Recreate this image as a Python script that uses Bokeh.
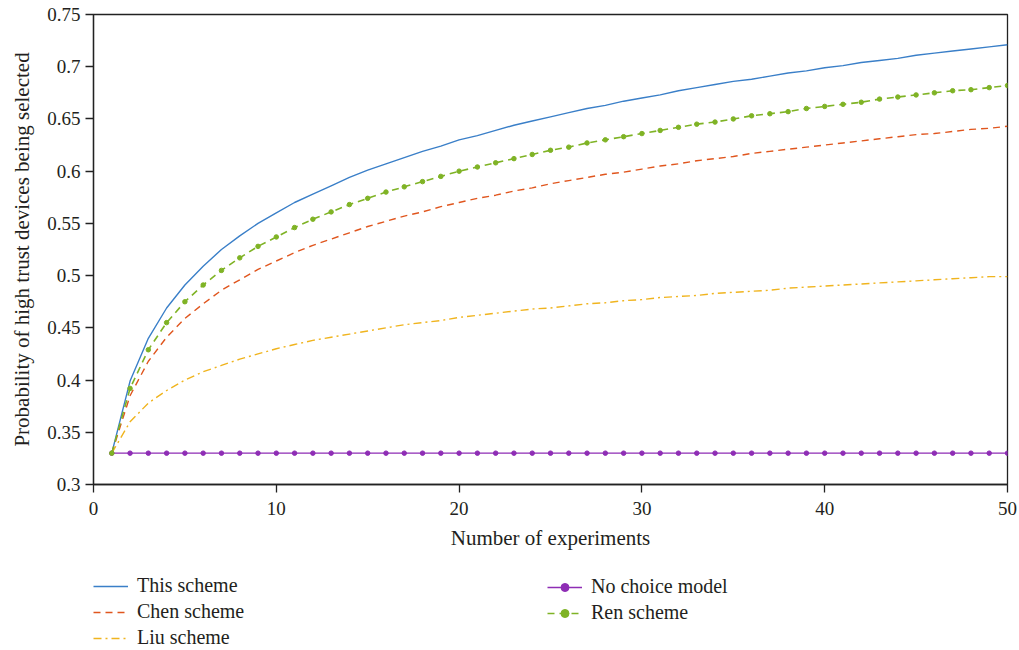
from bokeh.plotting import figure
from bokeh.models import Range1d, Legend, LegendItem, FixedTicker
from bokeh.layouts import column
from bokeh.embed import file_html
from bokeh.resources import INLINE

x = list(range(1, 51))

this_scheme = [0.330, 0.399, 0.440, 0.469, 0.491, 0.509, 0.525, 0.538, 0.550, 0.560,
               0.570, 0.578, 0.586, 0.594, 0.601, 0.607, 0.613, 0.619, 0.624, 0.630,
               0.634, 0.639, 0.644, 0.648, 0.652, 0.656, 0.660, 0.663, 0.667, 0.670,
               0.673, 0.677, 0.680, 0.683, 0.686, 0.688, 0.691, 0.694, 0.696, 0.699,
               0.701, 0.704, 0.706, 0.708, 0.711, 0.713, 0.715, 0.717, 0.719, 0.721]

ren_scheme = [0.330, 0.392, 0.429, 0.455, 0.475, 0.491, 0.505, 0.517, 0.528, 0.537,
              0.546, 0.554, 0.561, 0.568, 0.574, 0.580, 0.585, 0.590, 0.595, 0.600,
              0.604, 0.608, 0.612, 0.616, 0.620, 0.623, 0.627, 0.630, 0.633, 0.636,
              0.639, 0.642, 0.645, 0.647, 0.650, 0.653, 0.655, 0.657, 0.660, 0.662,
              0.664, 0.666, 0.669, 0.671, 0.673, 0.675, 0.677, 0.678, 0.680, 0.682]

chen_scheme = [0.330, 0.385, 0.418, 0.441, 0.459, 0.473, 0.486, 0.496, 0.506, 0.514,
               0.522, 0.529, 0.535, 0.541, 0.547, 0.552, 0.557, 0.561, 0.566, 0.570,
               0.574, 0.577, 0.581, 0.584, 0.588, 0.591, 0.594, 0.597, 0.599, 0.602,
               0.605, 0.607, 0.610, 0.612, 0.614, 0.617, 0.619, 0.621, 0.623, 0.625,
               0.627, 0.629, 0.631, 0.633, 0.635, 0.636, 0.638, 0.640, 0.641, 0.643]

liu_scheme = [0.330, 0.360, 0.378, 0.390, 0.400, 0.408, 0.414, 0.420, 0.425, 0.430,
              0.434, 0.438, 0.441, 0.444, 0.447, 0.450, 0.453, 0.455, 0.457, 0.460,
              0.462, 0.464, 0.466, 0.468, 0.469, 0.471, 0.473, 0.474, 0.476, 0.477,
              0.479, 0.480, 0.481, 0.483, 0.484, 0.485, 0.486, 0.488, 0.489, 0.490,
              0.491, 0.492, 0.493, 0.494, 0.495, 0.496, 0.497, 0.498, 0.499, 0.499]

no_choice = [0.330] * 50

series_names = ["This scheme", "Chen scheme", "Liu scheme", "No choice model", "Ren scheme"]

y_ticks = [0.3, 0.35, 0.4, 0.45, 0.5, 0.55, 0.6, 0.65, 0.7, 0.75]
y_tick_labels = ["0.3", "0.35", "0.4", "0.45", "0.5", "0.55", "0.6", "0.65", "0.7", "0.75"]
x_ticks = [0, 10, 20, 30, 40, 50]

FONT = "Liberation Serif"
TXT = "#231f20"

c_blue = "#3a7fc8"
c_orange = "#e0561e"
c_yellow = "#f0b41e"
c_purple = "#8e2db5"
c_green = "#7fb325"

styles = [
    dict(color=c_blue, dash="solid", marker=False, width=1.4),
    dict(color=c_orange, dash="7 5", marker=False, width=1.4),
    dict(color=c_yellow, dash="8 4 2 4", marker=False, width=1.4),
    dict(color=c_purple, dash="solid", marker=True, width=1.4),
    dict(color=c_green, dash="7 5", marker=True, width=1.6),
]
series = [this_scheme, chen_scheme, liu_scheme, no_choice, ren_scheme]


def draw_series(fig, msize):
    rends = []
    for ys, st in zip(series, styles):
        rs = [fig.line(x, ys, line_color=st["color"], line_width=st["width"], line_dash=st["dash"])]
        if st["marker"]:
            rs.append(fig.scatter(x, ys, marker="circle", size=msize,
                                  fill_color=st["color"], line_color=st["color"]))
        rends.append(rs)
    return rends


# ---- main plot ----
p = figure(width=1019, height=555, frame_width=914, frame_height=470,
           output_backend="svg", toolbar_location=None,
           x_range=Range1d(0, 50), y_range=Range1d(0.3, 0.75),
           min_border_left=93, min_border_right=12, min_border_top=14, min_border_bottom=71)
p.xgrid.visible = False
p.ygrid.visible = False
p.outline_line_color = "#222222"
p.outline_line_width = 1.3
p.background_fill_color = "white"
p.border_fill_color = "white"

for ax in (p.xaxis[0], p.yaxis[0]):
    ax.major_tick_in = 0
    ax.major_tick_out = 8
    ax.minor_tick_line_color = None
    ax.axis_line_color = "#222222"
    ax.axis_line_width = 1.3
    ax.major_tick_line_color = "#222222"
    ax.major_tick_line_width = 1.3
    ax.major_label_text_font = FONT
    ax.major_label_text_font_size = "19px"
    ax.major_label_text_color = TXT
    ax.axis_label_text_font = FONT
    ax.axis_label_text_font_size = "21px"
    ax.axis_label_text_font_style = "normal"
    ax.axis_label_text_color = TXT

p.xaxis.major_label_standoff = 9
p.yaxis.major_label_standoff = 5
p.yaxis.axis_label_standoff = 10
p.xaxis.axis_label_standoff = 8
p.xaxis.ticker = FixedTicker(ticks=x_ticks)
p.yaxis.ticker = FixedTicker(ticks=y_ticks)
p.yaxis.major_label_overrides = {t: l for t, l in zip(y_ticks, y_tick_labels)}
p.xaxis.axis_label = "Number of experiments"
p.yaxis.axis_label = "Probability of high trust devices being selected"

draw_series(p, 4.5)

# ---- legend panel (series drawn out of view; only the legend shows) ----
lf = figure(width=1019, height=95, output_backend="svg", toolbar_location=None,
            x_range=Range1d(1000, 1001), y_range=Range1d(1000, 1001),
            min_border_left=0, min_border_right=0, min_border_top=0, min_border_bottom=0)
lf.axis.visible = False
lf.grid.visible = False
lf.outline_line_color = None
lf.background_fill_color = "white"
lf.border_fill_color = "white"
lrends = draw_series(lf, 3.5)


def mk_legend(idx, loc):
    items = [LegendItem(label=series_names[i], renderers=lrends[i]) for i in idx]
    lg = Legend(items=items, location=loc, orientation="vertical")
    lg.border_line_color = None
    lg.background_fill_alpha = 0
    lg.label_text_font = FONT
    lg.label_text_font_size = "20px"
    lg.label_text_color = TXT
    lg.glyph_width = 35
    lg.glyph_height = 20
    lg.label_height = 20
    lg.spacing = 3
    lg.padding = 0
    lg.margin = 0
    lg.label_standoff = 9
    return lg


lf.add_layout(mk_legend([0, 1, 2], (0, 1)))
lf.add_layout(mk_legend([3, 4], (454, 26)))

layout = column(p, lf, spacing=0)
open("out.html", "w").write(file_html(layout, INLINE))
